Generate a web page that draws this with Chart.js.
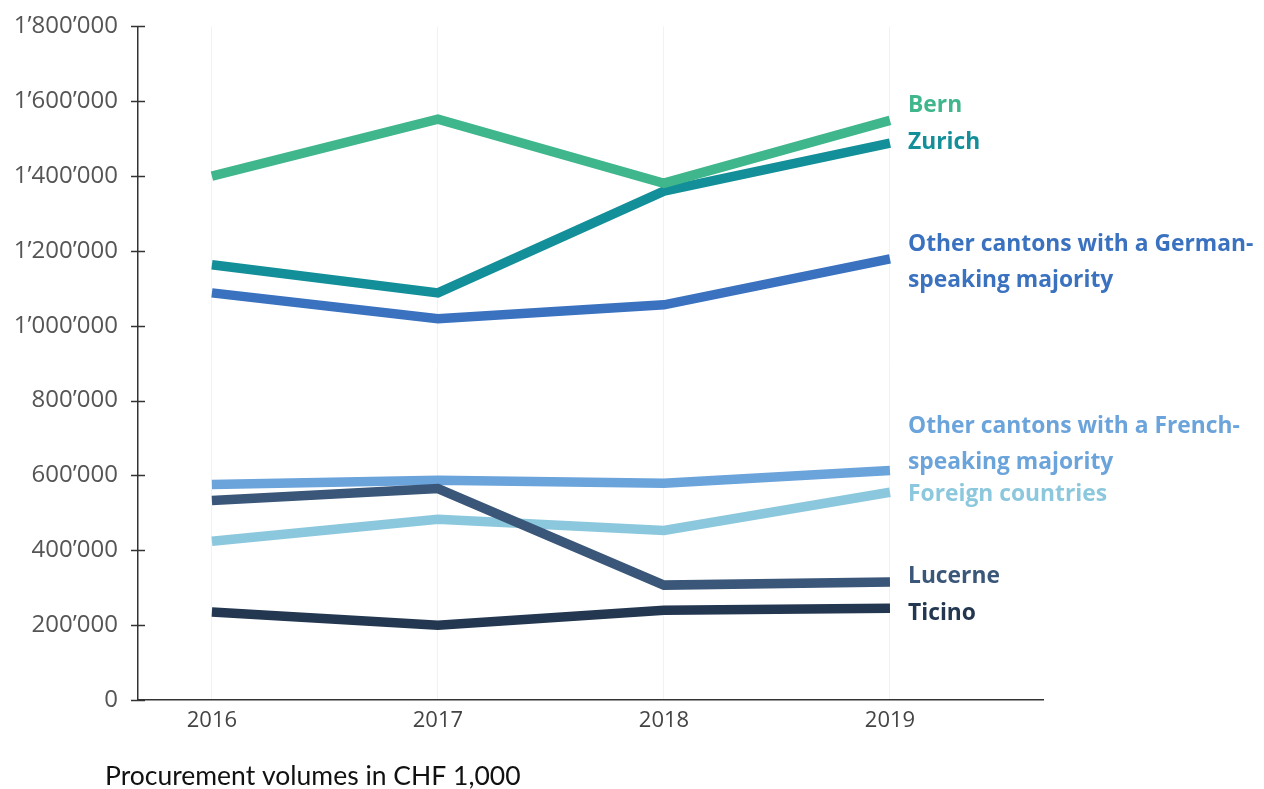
<!DOCTYPE html>
<html>
<head>
<meta charset="utf-8">
<script src="https://cdn.jsdelivr.net/npm/chart.js@4.4.0/dist/chart.umd.min.js"></script>
<style>
    html, body { margin: 0; padding: 0; background: #fff; }
    #wrap { width: 1264px; height: 789px; position: relative; }
</style>
</head>
<body>
<div id="wrap"><canvas id="procChart" width="1264" height="789"></canvas></div>
<script>
// years on the x axis
const years = [2016, 2017, 2018, 2019];
const yTicks = [0, 200000, 400000, 600000, 800000, 1000000, 1200000, 1400000, 1600000, 1800000];

// procurement volumes, CHF 1,000
const bern = [1400000, 1552000, 1381000, 1549000];
const zurich = [1163000, 1088000, 1360000, 1488000];
const otherGerman = [1088000, 1019000, 1056000, 1179000];
const otherFrench = [576000, 587000, 579000, 613000];
const foreign = [424000, 483000, 453000, 555000];
const lucerne = [533000, 565000, 307000, 315000];
const ticino = [235000, 200000, 240000, 245000];

const seriesNames = ['Bern', 'Zurich', 'Other cantons with a German-speaking majority',
    'Other cantons with a French-speaking majority', 'Foreign countries', 'Lucerne', 'Ticino'];

document.addEventListener('DOMContentLoaded', function () {
    const canvas = document.getElementById('procChart');

    function toPoints(values) {
        return values.map((v, i) => ({ x: years[i], y: v }));
    }

    function fmt(v) {
        return String(v).replace(/\B(?=(\d{3})+(?!\d))/g, '\u2019');
    }

    function line(label, values, color) {
        return {
            label: label,
            data: toPoints(values),
            borderColor: color,
            backgroundColor: color,
            borderWidth: 9.5,
            borderCapStyle: 'butt',
            borderJoinStyle: 'miter',
            pointRadius: 0,
            tension: 0,
            fill: false
        };
    }

    // right-hand labels (text, colour, y pixel)
    const sideLabels = [
        { text: 'Bern', color: '#3fb68b', y: 106 },
        { text: 'Zurich', color: '#138f99', y: 143 },
        { text: 'Other cantons with a German-', color: '#3a72c0', y: 245 },
        { text: 'speaking majority', color: '#3a72c0', y: 281 },
        { text: 'Other cantons with a French-', color: '#6ba3db', y: 427 },
        { text: 'speaking majority', color: '#6ba3db', y: 463 },
        { text: 'Foreign countries', color: '#8cc8dd', y: 495 },
        { text: 'Lucerne', color: '#3a5678', y: 577 },
        { text: 'Ticino', color: '#243750', y: 614 }
    ];

    const decorPlugin = {
        id: 'decor',
        afterDraw(chart) {
            const ctx = chart.ctx;
            const yScale = chart.scales.y;
            const left = chart.chartArea.left;
            ctx.save();
            // tick marks crossing the y axis
            ctx.strokeStyle = '#333';
            ctx.lineWidth = 1.5;
            yTicks.forEach(t => {
                const py = Math.round(yScale.getPixelForValue(t)) + 0.5;
                ctx.beginPath();
                ctx.moveTo(left - 7, py);
                ctx.lineTo(left + 7, py);
                ctx.stroke();
            });
            // series labels
            ctx.font = 'bold 22.8px "Open Sans"';
            ctx.textAlign = 'left';
            ctx.textBaseline = 'middle';
            sideLabels.forEach(l => {
                ctx.fillStyle = l.color;
                ctx.fillText(l.text, 908, l.y);
            });
            // footnote
            ctx.font = '26.5px Lato';
            ctx.fillStyle = '#111';
            ctx.fillText('Procurement volumes in CHF 1,000', 105, 776);
            ctx.restore();
        }
    };

    new Chart(canvas, {
        type: 'line',
        data: {
            datasets: [
                line(seriesNames[0], bern, '#3fb68b'),
                line(seriesNames[1], zurich, '#138f99'),
                line(seriesNames[2], otherGerman, '#3a72c0'),
                line(seriesNames[5], lucerne, '#3a5678'),
                line(seriesNames[6], ticino, '#243750'),
                line(seriesNames[3], otherFrench, '#6ba3db'),
                line(seriesNames[4], foreign, '#8cc8dd')
            ]
        },
        options: {
            responsive: false,
            animation: false,
            layout: { padding: { top: 17, right: 221, left: 0, bottom: 0 } },
            plugins: {
                legend: { display: false },
                tooltip: { enabled: false }
            },
            scales: {
                x: {
                    type: 'linear',
                    min: 2015.673,
                    max: 2019.677,
                    afterBuildTicks: scale => { scale.ticks = years.map(v => ({ value: v })); },
                    afterFit: scale => { scale.height = 89; },
                    grid: { display: true, drawTicks: false, color: '#f2f2f2', lineWidth: 1 },
                    border: { display: true, color: '#333', width: 1.5 },
                    ticks: {
                        padding: 8,
                        color: '#444',
                        font: { family: 'Open Sans', size: 22 },
                        callback: v => String(v)
                    }
                },
                y: {
                    min: 0,
                    max: 1800000,
                    afterBuildTicks: scale => { scale.ticks = yTicks.map(v => ({ value: v })); },
                    afterFit: scale => { scale.width = 138; },
                    grid: { display: false },
                    border: { display: true, color: '#333', width: 1.5 },
                    ticks: {
                        padding: 12,
                        color: '#555',
                        font: { family: 'Open Sans', size: 24 },
                        callback: v => fmt(v)
                    }
                }
            }
        },
        plugins: [decorPlugin]
    });
});
</script>
</body>
</html>
